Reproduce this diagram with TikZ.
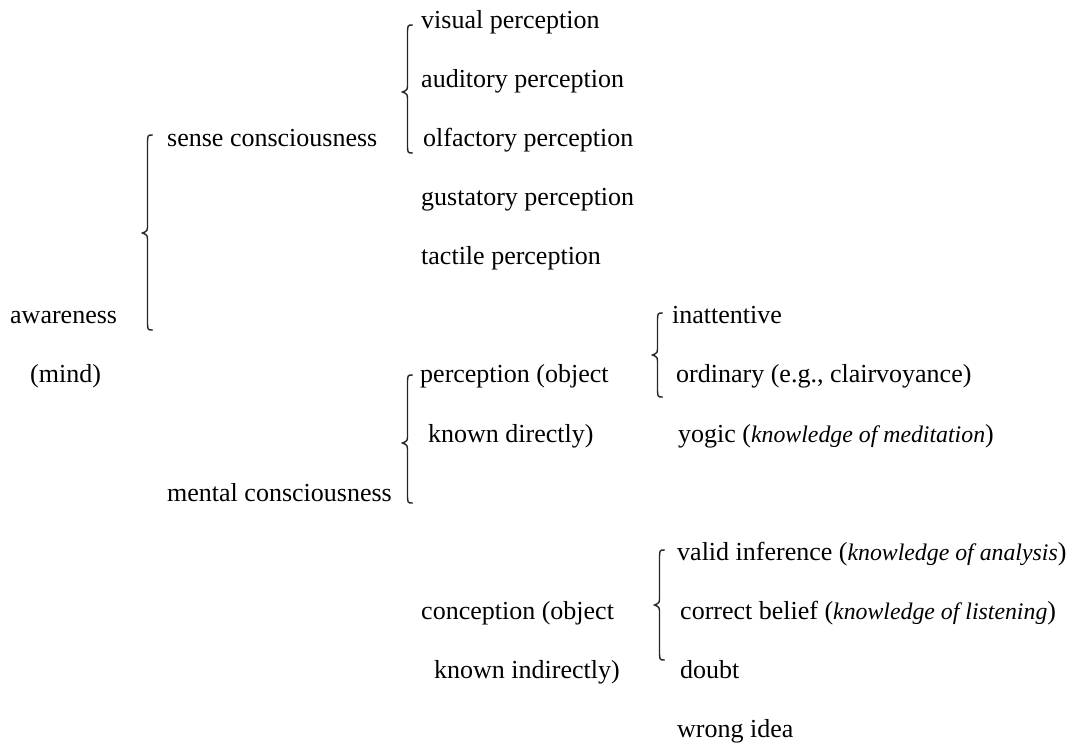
\documentclass[tikz,border=0pt]{standalone}
\usepackage{fontspec}
\setmainfont{Liberation Serif}
\newcommand\itpart[1]{{\fontsize{23.8}{30}\selectfont\itshape #1}}
\begin{document}
\begin{tikzpicture}[x=1pt,y=-1pt,
  lbl/.style={anchor=base west, inner sep=0pt, font=\fontsize{26}{30}\selectfont},
  br/.style={line width=1.4pt, draw=black!85, line cap=round}]
\useasboundingbox (0,0) rectangle (1070,747);
\def\bl#1{{28+59.15*#1}}
% texts
\node[lbl] (visual) at (421,\bl{0}) {visual perception};
\node[lbl] (auditory) at (421,\bl{1}) {auditory perception};
\node[lbl] (olfactory) at (423,\bl{2}) {olfactory perception};
\node[lbl] (sense) at (167,\bl{2}) {sense consciousness};
\node[lbl] (gustatory) at (421,\bl{3}) {gustatory perception};
\node[lbl] (tactile) at (421,\bl{4}) {tactile perception};
\node[lbl] (awareness) at (10,\bl{5}) {awareness};
\node[lbl] (inattentive) at (672,\bl{5}) {inattentive};
\node[lbl] (mind) at (30,\bl{6}) {(mind)};
\node[lbl] (perc) at (420,\bl{6}) {perception (object};
\node[lbl] (ordinary) at (676,\bl{6}) {ordinary (e.g., clairvoyance)};
\node[lbl] (direct) at (428,\bl{7}) {known directly)};
\node[lbl] (yogic) at (678,\bl{7}) {yogic (\itpart{knowledge of meditation})};
\node[lbl] (mental) at (167,\bl{8}) {mental consciousness};
\node[lbl] (valid) at (677,\bl{9}) {valid inference (\itpart{knowledge of analysis})};
\node[lbl] (conc) at (421,\bl{10}) {conception (object};
\node[lbl] (correct) at (680,\bl{10}) {correct belief (\itpart{knowledge of listening})};
\node[lbl] (indirect) at (434,\bl{11}) {known indirectly)};
\node[lbl] (doubt) at (680,\bl{11}) {doubt};
\node[lbl] (wrong) at (677,\bl{12}) {wrong idea};
% braces: tip x, line x, end x, top y, mid y, bottom y
\newcommand\mybrace[6]{%
  \draw[br] (#3,#4) .. controls (#2,#4) .. (#2,{#4+10}) -- (#2,{#5-9})
    .. controls (#2,{#5-2}) .. (#1,#5) .. controls (#2,{#5+2}) .. (#2,{#5+9})
    -- (#2,{#6-10}) .. controls (#2,#6) .. (#3,#6);}
\mybrace{142.5}{147.5}{152.5}{135}{233}{330}
\mybrace{402.5}{407.5}{412.5}{25}{92}{153}
\mybrace{402.5}{407.5}{412.5}{375}{443}{503}
\mybrace{652.5}{657.5}{662.5}{313}{355}{397}
\mybrace{654.5}{659.5}{664.5}{550}{605}{660}
\end{tikzpicture}
\end{document}
